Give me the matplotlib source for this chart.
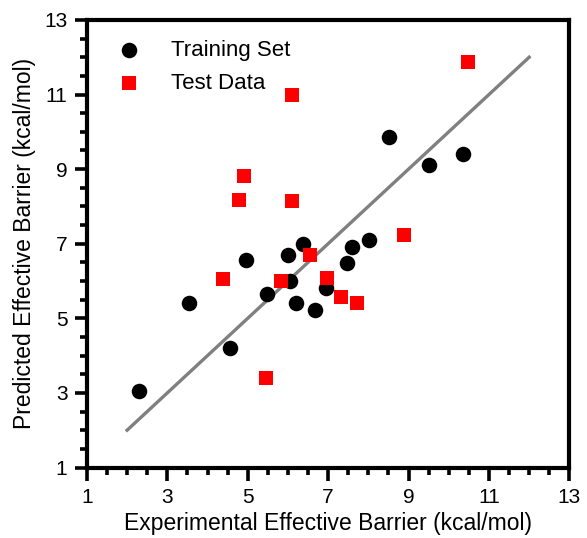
import matplotlib

matplotlib.use("Agg")
import matplotlib.pyplot as plt
from matplotlib.ticker import MultipleLocator

plt.rcParams["font.family"] = ["Liberation Sans", "DejaVu Sans"]

# training set: experimental vs predicted effective barrier (kcal/mol)
train_exp = [2.29, 3.55, 4.55, 4.96, 5.47, 6.00, 6.38, 6.05, 6.20, 6.67,
             6.95, 7.48, 7.59, 8.02, 8.52, 9.50, 10.35]
train_pred = [3.05, 5.42, 4.20, 6.56, 5.65, 6.71, 7.00, 6.01, 5.42, 5.21,
              5.81, 6.49, 6.92, 7.10, 9.86, 9.10, 9.41]

# test data
test_exp = [6.10, 4.90, 4.79, 6.10, 10.47, 8.89, 4.39, 5.83, 6.55, 5.45,
            6.96, 7.33, 7.72]
test_pred = [10.99, 8.82, 8.18, 8.14, 11.87, 7.24, 6.06, 6.01, 6.70, 3.41,
             6.07, 5.57, 5.42]

# parity line
line_x = [2, 12]
line_y = [2, 12]

ticks = list(range(1, 14, 2))

fig = plt.figure(figsize=(5.87, 5.38), dpi=100)
ax = fig.add_axes([0.148, 0.131, 0.822, 0.832])

ax.plot(line_x, line_y, color="#808080", lw=2.4, zorder=1)
ax.scatter(train_exp, train_pred, s=125, marker="o", color="black",
           label="Training Set", zorder=2, linewidths=0)
ax.scatter(test_exp, test_pred, s=115, marker="s", color="#ff0000",
           label="Test Data", zorder=3, linewidths=0)

ax.set_xlim(1, 13)
ax.set_ylim(1, 13)
ax.set_xticks(ticks)
ax.set_yticks(ticks)
ax.xaxis.set_minor_locator(MultipleLocator(0.5))
ax.yaxis.set_minor_locator(MultipleLocator(0.5))

ax.tick_params(which="major", length=9, width=2.6, labelsize=15)
ax.tick_params(axis="x", which="major", pad=6)
ax.tick_params(axis="y", which="major", pad=5)
ax.tick_params(which="minor", length=5, width=2.6)
for s in ax.spines.values():
    s.set_linewidth(3)

ax.set_xlabel("Experimental Effective Barrier (kcal/mol)", fontsize=16.5, labelpad=3)
ax.set_ylabel("Predicted Effective Barrier (kcal/mol)", fontsize=16.5, labelpad=6)

ax.legend(loc="upper left", frameon=False, fontsize=16, handletextpad=0.9,
          borderaxespad=0.5, scatterpoints=1, labelspacing=0.55,
          borderpad=0.4)

fig.savefig("out.png", dpi=100)
